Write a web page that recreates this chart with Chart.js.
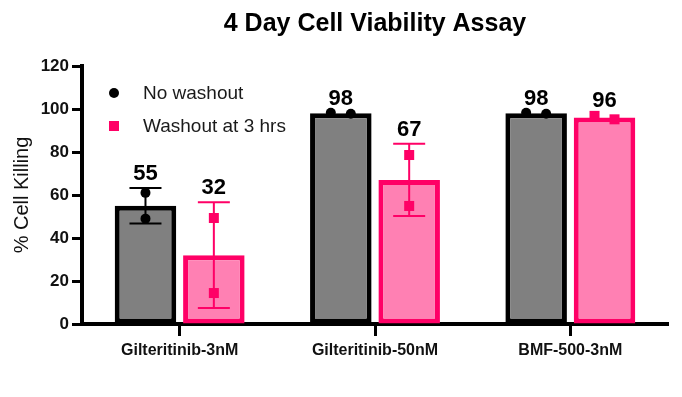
<!DOCTYPE html>
<html>
<head>
<meta charset="utf-8">
<script src="https://cdn.jsdelivr.net/npm/chart.js@4"></script>
<style>
  html, body { margin: 0; padding: 0; background: #fff; }
  #wrap { width: 682px; height: 397px; }
</style>
</head>
<body>
<div id="wrap"><canvas id="c" width="682" height="397"></canvas></div>
<script>
// ---- data ----
const categories = ['Gilteritinib-3nM', 'Gilteritinib-50nM', 'BMF-500-3nM'];
const seriesNames = ['No washout', 'Washout at 3 hrs'];
const noWashoutMean = [55, 98, 98];
const noWashoutSD = [8.3, 0.3, 0.3];
const noWashoutPoints = [[61, 49], [98.2, 97.8], [98.2, 97.8]];
const washoutMean = [32, 67, 96];
const washoutSD = [24.6, 16.8, 1.1];
const washoutPoints = [[49.3, 14.4], [78.6, 54.9], [96.8, 95.2]];
const yTickValues = [0, 20, 40, 60, 80, 100, 120];

const FONT = "'Liberation Sans', Arial, sans-serif";
const GRAY_FILL = '#808080';
const GRAY_BORDER = '#000000';
const PINK_FILL = '#FF80B3';
const PINK_BORDER = '#FF0066';

const extras = [
  { sd: noWashoutSD, points: noWashoutPoints, marker: 'circle', color: '#000000', errColor: '#000000' },
  { sd: washoutSD, points: washoutPoints, marker: 'square', color: PINK_BORDER, errColor: PINK_BORDER }
];

function drawMarker(ctx, type, x, y, color) {
  ctx.fillStyle = color;
  if (type === 'circle') {
    ctx.beginPath();
    ctx.arc(x, y, 5, 0, Math.PI * 2);
    ctx.fill();
  } else {
    ctx.fillRect(x - 5, y - 5, 10, 10);
  }
}

const overlayPlugin = {
  id: 'overlay',
  afterDatasetsDraw(chart) {
    const ctx = chart.ctx;
    const yScale = chart.scales.y;
    chart.data.datasets.forEach((ds, di) => {
      const meta = chart.getDatasetMeta(di);
      const ex = extras[di];
      meta.data.forEach((bar, i) => {
        const mean = ds.data[i];
        const sd = ex.sd[i];
        const x = bar.x;
        const yTop = yScale.getPixelForValue(mean + sd);
        const yBot = yScale.getPixelForValue(mean - sd);
        ctx.save();
        // error bar
        if (yBot - yTop > 6) {
          ctx.strokeStyle = ex.errColor;
          ctx.lineWidth = 2;
          ctx.beginPath();
          ctx.moveTo(x, yTop); ctx.lineTo(x, yBot);
          ctx.moveTo(x - 16, yTop); ctx.lineTo(x + 16, yTop);
          ctx.moveTo(x - 16, yBot); ctx.lineTo(x + 16, yBot);
          ctx.stroke();
        }
        // individual points
        const pts = ex.points[i];
        const py = pts.map(v => yScale.getPixelForValue(v));
        const close = Math.abs(py[0] - py[1]) < 10;
        let minY = Infinity;
        pts.forEach((v, k) => {
          const px = close ? x + (k === 0 ? -10 : 10) : x;
          drawMarker(ctx, ex.marker, px, py[k], ex.color);
          minY = Math.min(minY, py[k]);
        });
        // mean label
        const labelY = Math.min(yTop, minY, bar.y) - 8;
        ctx.fillStyle = '#000';
        ctx.font = 'bold 22px ' + FONT;
        ctx.textAlign = 'center';
        ctx.textBaseline = 'alphabetic';
        ctx.fillText(String(Math.round(mean)), x, labelY);
        ctx.restore();
      });
    });
  },
  afterDraw(chart) {
    // legend inside the plot area
    const ctx = chart.ctx;
    const a = chart.chartArea;
    const lx = a.left + 32, ly = a.top + 27, gap = 33;
    ctx.save();
    ctx.font = '19px ' + FONT;
    ctx.textBaseline = 'middle';
    ctx.textAlign = 'left';
    extras.forEach((ex, k) => {
      const y = ly + k * gap;
      drawMarker(ctx, ex.marker, lx, y, ex.color);
      ctx.fillStyle = '#1a1a1a';
      ctx.fillText(seriesNames[k], lx + 29, y + 1);
    });
    ctx.restore();
  }
};

new Chart(document.getElementById('c'), {
  type: 'bar',
  data: {
    labels: categories,
    datasets: [
      { label: seriesNames[0], data: noWashoutMean, backgroundColor: GRAY_FILL, borderColor: GRAY_BORDER, borderWidth: 5, borderSkipped: false },
      { label: seriesNames[1], data: washoutMean, backgroundColor: PINK_FILL, borderColor: PINK_BORDER, borderWidth: 5, borderSkipped: false }
    ]
  },
  plugins: [overlayPlugin],
  options: {
    responsive: false,
    animation: false,
    layout: { padding: { left: 0, right: 14, top: 0, bottom: 0 } },
    datasets: { bar: { categoryPercentage: 0.7, barPercentage: 0.9 } },
    plugins: {
      legend: { display: false },
      tooltip: { enabled: false },
      title: {
        display: true,
        text: '4 Day Cell Viability Assay',
        fullSize: false,
        color: '#000',
        font: { family: FONT, size: 25, weight: 'bold' },
        padding: { top: 9, bottom: 27 }
      }
    },
    scales: {
      x: {
        grid: { display: true, drawOnChartArea: false, drawTicks: true, tickLength: 12, tickWidth: 3, tickColor: '#000', offset: false },
        border: { display: true, color: '#000', width: 4 },
        ticks: { color: '#111', font: { family: FONT, size: 16, weight: 'bold' }, padding: 5, maxRotation: 0 },
        afterFit(s) { s.height = 73; }
      },
      y: {
        min: 0, max: 120,
        afterBuildTicks(s) { s.ticks = yTickValues.map(v => ({ value: v })); },
        grid: { display: true, drawOnChartArea: false, drawTicks: true, tickLength: 10, tickWidth: 3, tickColor: '#000' },
        border: { display: true, color: '#000', width: 4 },
        ticks: { color: '#111', font: { family: FONT, size: 17, weight: 'bold' }, padding: 3 },
        title: { display: true, text: '% Cell Killing', color: '#111', font: { family: FONT, size: 20 }, padding: { top: 10, bottom: 0 } },
        afterFit(s) { s.width = 82; }
      }
    }
  }
});
</script>
</body>
</html>
